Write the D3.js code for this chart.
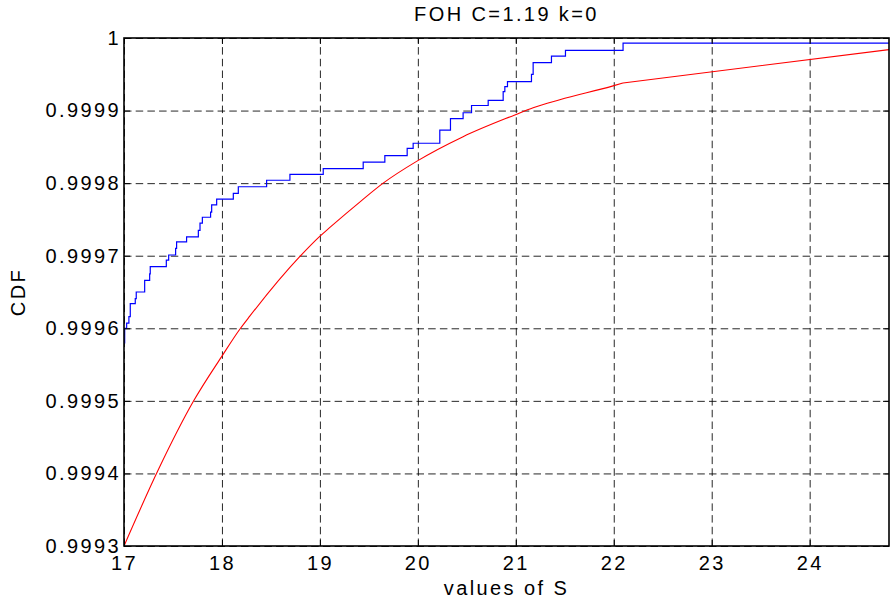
<!DOCTYPE html>
<html>
<head>
<meta charset="utf-8">
<script src="https://cdn.jsdelivr.net/npm/d3@7"></script>
<style>
  html, body { margin: 0; padding: 0; background: #fff; }
  svg { display: block; font-family: "Liberation Sans", Arial, Helvetica, sans-serif; }
</style>
</head>
<body>
<svg id="chart" width="891" height="603"></svg>
<script>
// Labels
const titleText = "FOH C=1.19 k=0";
const xLabel = "values of S";
const yLabel = "CDF";

// Axis ticks
const xTicks = [17, 18, 19, 20, 21, 22, 23, 24];
const xTickLabels = ["17", "18", "19", "20", "21", "22", "23", "24"];
const yTicks = [0.9993, 0.9994, 0.9995, 0.9996, 0.9997, 0.9998, 0.9999, 1];
const yTickLabels = ["0.9993", "0.9994", "0.9995", "0.9996", "0.9997", "0.9998", "0.9999", "1"];

// Empirical CDF (step function): value of S where each level starts, and the level
const empS = [
  17.000, 17.007, 17.027, 17.050, 17.064, 17.115, 17.125, 17.211, 17.262, 17.268,
  17.432, 17.456, 17.527, 17.537, 17.639, 17.759, 17.776, 17.800, 17.884, 17.895,
  17.946, 18.116, 18.167, 18.456, 18.694, 19.034, 19.442, 19.663, 19.891, 19.952,
  20.224, 20.333, 20.462, 20.548, 20.718, 20.871, 20.888, 20.915, 21.160, 21.177,
  21.364, 21.507, 22.095, 24.810
];
const empCdf = [
  0.999580, 0.999600, 0.999607, 0.999616, 0.999634, 0.999641, 0.999650, 0.999666, 0.999675, 0.999685,
  0.999694, 0.999701, 0.999710, 0.999719, 0.999726, 0.999735, 0.999745, 0.999753, 0.999760, 0.999770,
  0.999778, 0.999786, 0.999795, 0.999804, 0.999812, 0.999820, 0.999829, 0.999838, 0.999848, 0.999855,
  0.999873, 0.999889, 0.999897, 0.999907, 0.999914, 0.999926, 0.999933, 0.999940, 0.999950, 0.999966,
  0.999975, 0.999983, 0.999993, 0.999993
];

// Fitted CDF
const fitS = [
  17.000, 17.350, 17.707, 17.997, 18.184, 18.286, 18.796, 18.993, 19.102, 19.425,
  19.646, 19.987, 20.462, 20.990, 21.177, 21.449, 21.993, 22.095, 24.810
];
const fitCdf = [
  0.999300, 0.999405, 0.999499, 0.999561, 0.999599, 0.999617, 0.999699, 0.999726, 0.999739, 0.999776,
  0.999800, 0.999830, 0.999864, 0.999894, 0.999904, 0.999915, 0.999934, 0.999938, 0.999984
];

const W = 891, H = 603;
const margin = { top: 38, right: 2, bottom: 57, left: 124 };
const iw = W - margin.left - margin.right;
const ih = H - margin.top - margin.bottom;

const svg = d3.select("#chart");
const g = svg.append("g").attr("transform", `translate(${margin.left},${margin.top})`);

const x = d3.scaleLinear().domain([17, d3.max(empS)]).range([0, iw]);
const y = d3.scaleLinear().domain([0.9993, 1]).range([ih, 0]);

const fontSize = 20;
const spacing = "2.4px";

// Dashed grid
g.append("g")
  .attr("class", "grid")
  .attr("transform", `translate(0,${ih})`)
  .call(d3.axisBottom(x).tickValues(xTicks).tickSize(-ih).tickFormat(""))
  .call(s => s.select(".domain").remove());
g.append("g")
  .attr("class", "grid")
  .call(d3.axisLeft(y).tickValues(yTicks).tickSize(-iw).tickFormat(""))
  .call(s => s.select(".domain").remove());
g.selectAll(".grid line")
  .attr("stroke", "#000")
  .attr("stroke-opacity", 0.85)
  .attr("stroke-width", 1)
  .attr("stroke-dasharray", "7.5,4.2");

// Clip for data
svg.append("defs").append("clipPath").attr("id", "plotclip")
  .append("rect").attr("x", 0).attr("y", -1).attr("width", iw).attr("height", ih + 2);

const fitData = fitS.map((s, i) => [s, fitCdf[i]]);
const empData = empS.map((s, i) => [s, empCdf[i]]);

const plot = g.append("g").attr("clip-path", "url(#plotclip)");

// Fitted curve: smooth where the fit is densely evaluated, straight across the last gap
const nSmooth = fitData.length - 1;
const smoothLine = d3.line().x(d => x(d[0])).y(d => y(d[1])).curve(d3.curveMonotoneX);
const straightLine = d3.line().x(d => x(d[0])).y(d => y(d[1]));
plot.append("path")
  .attr("fill", "none")
  .attr("stroke", "#ff0000")
  .attr("stroke-width", 1.1)
  .attr("d", smoothLine(fitData.slice(0, nSmooth)) + straightLine(fitData.slice(nSmooth - 1)).replace(/^M/, "L"));

plot.append("path")
  .datum(empData)
  .attr("fill", "none")
  .attr("stroke", "#0000ff")
  .attr("stroke-width", 1.2)
  .attr("d", d3.line().x(d => x(d[0])).y(d => y(d[1])).curve(d3.curveStepAfter));

// Axes with inward ticks
const xAxis = g.append("g")
  .attr("transform", `translate(0,${ih})`)
  .call(d3.axisBottom(x).tickValues(xTicks).tickSize(-6).tickPadding(10)
    .tickFormat((d, i) => xTickLabels[i]));
const yAxis = g.append("g")
  .call(d3.axisLeft(y).tickValues(yTicks).tickSize(-6).tickPadding(3)
    .tickFormat((d, i) => yTickLabels[i]));
g.append("g")
  .attr("transform", `translate(${iw},0)`)
  .call(d3.axisRight(y).tickValues(yTicks).tickSize(-6).tickFormat(""));
g.append("g")
  .call(d3.axisTop(x).tickValues(xTicks).tickSize(-6).tickFormat(""));

g.selectAll(".domain").remove();
[xAxis, yAxis].forEach(a => a.selectAll("text")
  .attr("fill", "#000")
  .style("font-size", fontSize + "px")
  .style("letter-spacing", spacing));
xAxis.selectAll("text").attr("dy", "0.71em");

// Frame
g.append("rect")
  .attr("x", 0).attr("y", 0).attr("width", iw).attr("height", ih)
  .attr("fill", "none").attr("stroke", "#000").attr("stroke-width", 1.6);

// Title and axis labels
svg.append("text")
  .attr("x", margin.left + iw / 2).attr("y", 21)
  .attr("text-anchor", "middle")
  .style("font-size", fontSize + "px").style("letter-spacing", spacing)
  .text(titleText);
svg.append("text")
  .attr("x", margin.left + iw / 2).attr("y", 595)
  .attr("text-anchor", "middle")
  .style("font-size", fontSize + "px").style("letter-spacing", spacing)
  .text(xLabel);
svg.append("text")
  .attr("transform", `translate(25,292) rotate(-90)`)
  .attr("text-anchor", "middle")
  .style("font-size", fontSize + "px").style("letter-spacing", spacing)
  .text(yLabel);
</script>
</body>
</html>
